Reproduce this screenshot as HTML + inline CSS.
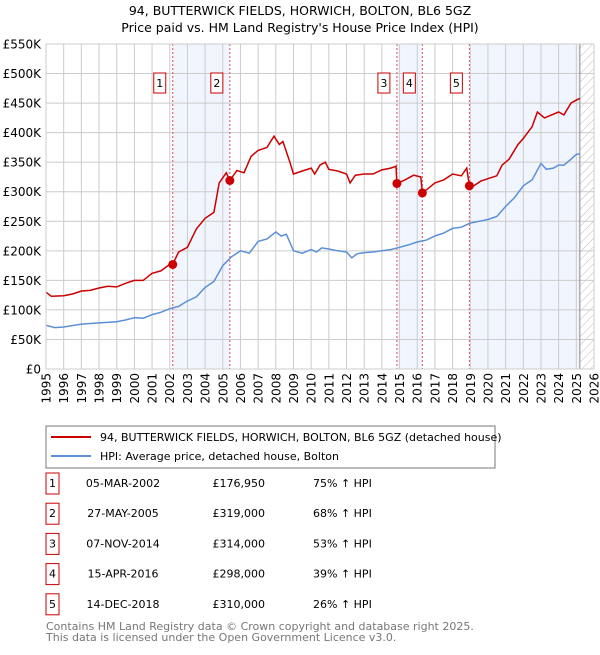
<!DOCTYPE html>
<html><head><meta charset="utf-8"><style>
body{margin:0;background:#fff;font-family:"Liberation Sans","DejaVu Sans",sans-serif;}
svg text{font-family:"DejaVu Sans","Liberation Sans",sans-serif;}
</style></head><body>
<svg id="c" width="600" height="650" xmlns="http://www.w3.org/2000/svg">
<defs><pattern id="hatch" width="6" height="6" patternUnits="userSpaceOnUse" patternTransform="rotate(45)"><line x1="0" y1="0" x2="0" y2="6" stroke="#bbb" stroke-width="1"/></pattern></defs>
<text x="300" y="15" text-anchor="middle" font-size="12.5">94, BUTTERWICK FIELDS, HORWICH, BOLTON, BL6 5GZ</text>
<text x="300" y="32" text-anchor="middle" font-size="12.5">Price paid vs. HM Land Registry's House Price Index (HPI)</text>
<g id="plot"></g>
<rect x="46" y="426" width="449" height="42" fill="#fff" stroke="#777"/>
<line x1="51" y1="437" x2="91" y2="437" stroke="#cc0000" stroke-width="2"/>
<text x="100" y="441" font-size="11">94, BUTTERWICK FIELDS, HORWICH, BOLTON, BL6 5GZ (detached house)</text>
<line x1="51" y1="456" x2="91" y2="456" stroke="#5b8fd6" stroke-width="2"/>
<text x="100" y="460" font-size="11">HPI: Average price, detached house, Bolton</text>
<g id="table"></g>
<text x="46" y="630" font-size="11" fill="#777">Contains HM Land Registry data © Crown copyright and database right 2025.</text>
<text x="46" y="641" font-size="11" fill="#777">This data is licensed under the Open Government Licence v3.0.</text>
</svg>
<script>
const hpiX=[1995,1995.5,1996,1997,1998,1999,1999.5,2000,2000.5,2001,2001.5,2002,2002.5,2003,2003.5,2004,2004.5,2005,2005.5,2006,2006.5,2007,2007.5,2008,2008.3,2008.6,2009,2009.5,2010,2010.3,2010.6,2011,2011.5,2012,2012.3,2012.6,2013,2013.5,2014,2014.5,2015,2015.5,2016,2016.5,2017,2017.5,2018,2018.5,2019,2019.5,2020,2020.5,2021,2021.5,2022,2022.5,2023,2023.3,2023.7,2024,2024.3,2024.7,2025,2025.2];
const hpiV=[74,70,71,76,78,80,83,87,86,92,96,102,106,115,122,138,148,175,190,200,196,216,220,232,225,228,200,196,202,198,205,203,200,198,188,195,197,198,200,202,206,210,215,218,225,230,238,240,247,250,253,258,275,290,310,320,348,338,340,345,345,355,363,364];
const priceX=[1995,1995.3,1996,1996.5,1997,1997.5,1998,1998.5,1999,1999.5,2000,2000.5,2001,2001.5,2002,2002.17,2002.5,2003,2003.5,2004,2004.5,2004.8,2005.2,2005.4,2005.8,2006.2,2006.6,2007,2007.5,2007.9,2008.2,2008.4,2008.8,2009,2009.5,2010,2010.2,2010.5,2010.8,2011,2011.5,2012,2012.2,2012.5,2013,2013.5,2014,2014.5,2014.8,2014.85,2015.3,2015.8,2016.2,2016.29,2016.6,2017,2017.5,2018,2018.5,2018.8,2018.95,2019.2,2019.6,2020,2020.5,2020.8,2021.2,2021.7,2022,2022.5,2022.8,2023.2,2023.6,2024,2024.3,2024.7,2025,2025.2];
const priceV=[130,123,124,127,132,133,137,140,139,145,150,150,162,166,177,177,198,206,237,255,265,315,332,319,336,332,360,370,375,394,380,385,350,330,335,340,330,345,350,338,335,330,315,328,330,330,337,340,343,314,320,328,325,298,305,315,320,330,327,340,310,310,318,322,327,345,355,380,390,410,435,425,430,435,430,450,455,458];
const saleLabels=["1","2","3","4","5"];
const saleDates=[2002.17,2005.4,2014.85,2016.29,2018.95];
const saleValues=[176.95,319,314,298,310];
const saleDateText=["05-MAR-2002","27-MAY-2005","07-NOV-2014","15-APR-2016","14-DEC-2018"];
const salePriceText=["£176,950","£319,000","£314,000","£298,000","£310,000"];
const saleHpiText=["75% ↑ HPI","68% ↑ HPI","53% ↑ HPI","39% ↑ HPI","26% ↑ HPI"];
const yTicks=[0,50,100,150,200,250,300,350,400,450,500,550];
const yTickLabels=["£0","£50K","£100K","£150K","£200K","£250K","£300K","£350K","£400K","£450K","£500K","£550K"];
const xTicks=[1995,1996,1997,1998,1999,2000,2001,2002,2003,2004,2005,2006,2007,2008,2009,2010,2011,2012,2013,2014,2015,2016,2017,2018,2019,2020,2021,2022,2023,2024,2025,2026];

const L=46,R=594,T=44,B=369,x0=1995,x1=2026,ymax=550,dataEnd=2025.2;
const sx=v=>L+(v-x0)/(x1-x0)*(R-L);
const sy=v=>B-v/ymax*(B-T);
const NS="http://www.w3.org/2000/svg";
const g=document.getElementById('plot');
function mk(tag,attrs,parent){const e=document.createElementNS(NS,tag);for(const k in attrs)e.setAttribute(k,attrs[k]);(parent||g).appendChild(e);return e;}

let e=mk('rect',{x:L,y:T,width:R-L,height:B-T,fill:'#fff'});


const shades=[[saleDates[0],saleDates[1]],[saleDates[2],saleDates[3]],[saleDates[4],dataEnd]];
shades.forEach((s,i)=>{const r=mk('rect',{x:sx(s[0]),y:T,width:sx(s[1])-sx(s[0]),height:B-T,fill:'#eef3fc',opacity:0.8});

});
e=mk('rect',{x:sx(dataEnd),y:T,width:R-sx(dataEnd),height:B-T,fill:'url(#hatch)'});


yTicks.forEach((v,i)=>{const l=mk('line',{x1:L,x2:R,y1:sy(v),y2:sy(v),stroke:'#ccc','stroke-width':1});


const t=mk('text',{x:L-5,y:sy(v)+4.5,'text-anchor':'end','font-size':12});t.textContent=yTickLabels[i];

});
xTicks.forEach(v=>{const l=mk('line',{x1:sx(v),x2:sx(v),y1:T,y2:B,stroke:'#ccc','stroke-width':1});


const t=mk('text',{x:0,y:0,'text-anchor':'end','font-size':12,transform:`translate(${sx(v)+4.5},${B+4}) rotate(-90)`});t.textContent=v;

});
e=mk('line',{x1:sx(dataEnd),x2:sx(dataEnd),y1:T,y2:B,stroke:'#888','stroke-width':1});


saleDates.forEach(d=>{const l=mk('line',{x1:sx(d),x2:sx(d),y1:T,y2:B,stroke:'#e05050','stroke-width':1,'stroke-dasharray':'2,2'});

});
function path(xs,vs){return xs.map((x,i)=>(i?'L':'M')+sx(x).toFixed(1)+','+sy(vs[i]).toFixed(1)).join('');}
e=mk('path',{d:path(hpiX,hpiV),fill:'none',stroke:'#5b8fd6','stroke-width':1.5});


e=mk('path',{d:path(priceX,priceV),fill:'none',stroke:'#cc0000','stroke-width':1.5});


saleDates.forEach((d,i)=>{const c=mk('circle',{cx:sx(d),cy:sy(saleValues[i]),r:4.5,fill:'#cc0000'});


const bx=mk('rect',{x:sx(d)-19,y:73,width:12,height:20,fill:'#fff',stroke:'#cc0000'});


const t=mk('text',{x:sx(d)-13,y:87,'text-anchor':'middle','font-size':11});t.textContent=saleLabels[i];

});
e=mk('rect',{x:L,y:T,width:R-L,height:B-T,fill:'none',stroke:'#ccc'});


const tb=document.getElementById('table');
saleLabels.forEach((s,i)=>{const y=483+i*30.2;
let r=mk('rect',{x:46,y:y-10,width:13,height:21,fill:'#fff',stroke:'#cc0000'},tb);


let t=mk('text',{x:52.5,y:y+4,'text-anchor':'middle','font-size':11},tb);t.textContent=s;


t=mk('text',{x:123,y:y+4,'text-anchor':'middle','font-size':11},tb);t.textContent=saleDateText[i];


t=mk('text',{x:265,y:y+4,'text-anchor':'end','font-size':11},tb);t.textContent=salePriceText[i];


t=mk('text',{x:313,y:y+4,'font-size':11},tb);t.textContent=saleHpiText[i];

});
</script>
</body></html>
